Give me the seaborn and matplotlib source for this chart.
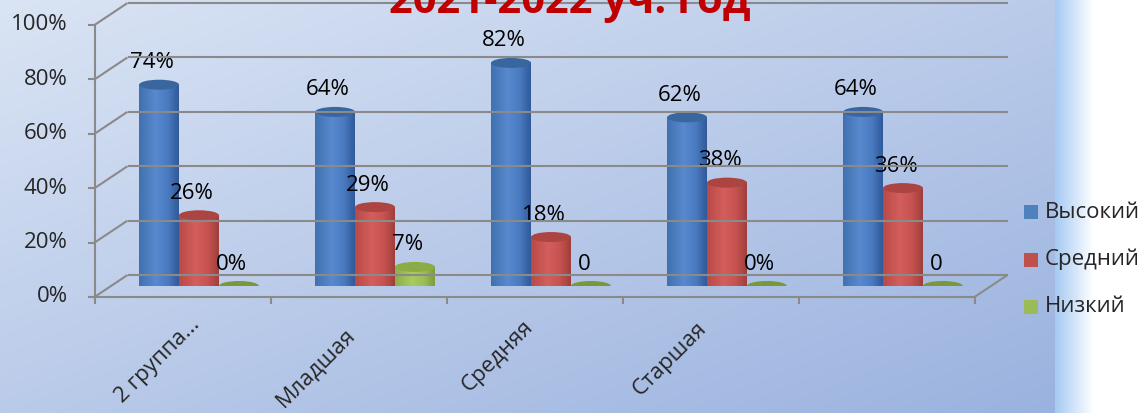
import numpy as np
import pandas as pd
import matplotlib
matplotlib.use("Agg")
import matplotlib.pyplot as plt
import seaborn as sns
from matplotlib.patches import Ellipse, Rectangle
from matplotlib.lines import Line2D
from matplotlib.transforms import IdentityTransform
from matplotlib.colors import LinearSegmentedColormap, to_rgb

# ---------------- data ----------------
categories = ["2 группа...", "Младшая", "Средняя", "Старшая", ""]
series = ["Высокий", "Средний", "Низкий"]
vysokiy = [74, 64, 82, 62, 64]
sredniy = [26, 29, 18, 38, 36]
nizkiy = [0, 7, 0, 0, 0]
labels_vysokiy = ["74%", "64%", "82%", "62%", "64%"]
labels_sredniy = ["26%", "29%", "18%", "38%", "36%"]
labels_nizkiy = ["0%", "7%", "0", "0%", "0"]
yticks = [0, 20, 40, 60, 80, 100]
ytick_labels = ["0%", "20%", "40%", "60%", "80%", "100%"]
title = "2021-2022 уч. год"

colors = ["#4F81BD", "#C0504D", "#9BBB59"]
grad_stops = [
    ["#4070AF", "#5889CE", "#4A7BC0", "#30599A"],
    ["#B84A47", "#D45E5B", "#C75350", "#9E3E3B"],
    ["#8CAD49", "#AACB60", "#9DBE56", "#7D9C3D"],
]
cap_colors = ["#3A66A0", "#AC4441", "#8BAB45"]
zero_colors = ["#3A67A2", "#AE4542", "#7A973C"]

W, H = 1144, 413
DX, DY = 16.5, 11.0   # depth offset in pixels
GRID = "#8A8A8A"

sns.set_theme(style="white")
plt.rcParams["font.family"] = ["Open Sans", "DejaVu Sans"]

fig = plt.figure(figsize=(W / 100, H / 100), dpi=100)

# ---------------- background ----------------
bg = fig.add_axes([0, 0, 1, 1], zorder=-10)
X, Y = np.meshgrid(np.arange(W), np.arange(H))
t = np.clip((X / 1055 + Y / 413) / 2, 0, 1)[..., None]
c1 = np.array(to_rgb("#DAE4F4"))
c2 = np.array(to_rgb("#9AB2DF"))
img = c1 * (1 - t) + c2 * t
s = np.clip((X - 1055) / 38.0, 0, 1)[..., None]
cs = np.array(to_rgb("#A6CAF3"))
strip = cs * (1 - s) + np.ones(3) * s
img = np.where((X >= 1055)[..., None], strip, img)
bg.imshow(img, extent=(0, W, H, 0), aspect="auto", interpolation="bilinear")
bg.set_xlim(0, W)
bg.set_ylim(H, 0)
bg.axis("off")

# ---------------- main axes (mid-depth plane) ----------------
ax = fig.add_axes([111 / W, (H - 286) / H, 880 / W, 272 / H])
ax.patch.set_alpha(0)

df = pd.DataFrame({
    "Категория": categories * 3,
    "Уровень": [series[0]] * 5 + [series[1]] * 5 + [series[2]] * 5,
    "Значение": vysokiy + sredniy + nizkiy,
})
sns.barplot(data=df, x="Категория", y="Значение", hue="Уровень",
            order=categories, hue_order=series, palette=colors,
            width=0.68, saturation=1, errorbar=None, legend=False, ax=ax)
ax.set_xlim(-0.5, 4.5)
ax.set_ylim(0, 100)
ax.axis("off")
fig.canvas.draw()

px_to_data = 100.0 / 272.0
eh = 10 * px_to_data
all_labels = [labels_vysokiy, labels_sredniy, labels_nizkiy]

for si, cont in enumerate(ax.containers):
    cmap = LinearSegmentedColormap.from_list(
        f"cyl{si}", list(zip([0, 0.42, 0.72, 1.0], grad_stops[si])))
    grad = np.linspace(0, 1, 256)[None, :]
    for ci, bar in enumerate(cont):
        x0, w, h = bar.get_x(), bar.get_width(), bar.get_height()
        cx = x0 + w / 2
        z = 3 + si + ci * 0.01
        if h > 0:
            bar.set_facecolor("none")
            bar.set_edgecolor("none")
            ax.add_patch(Ellipse((cx, 0), w, eh, facecolor=grad_stops[si][3],
                                 edgecolor="none", zorder=z - 0.1))
            ax.imshow(grad, extent=(x0, x0 + w, 0, h), aspect="auto",
                      cmap=cmap, zorder=z, interpolation="bilinear")
            ax.add_patch(Ellipse((cx, h), w, eh, facecolor=cap_colors[si],
                                 edgecolor="none", zorder=z + 0.1))
        else:
            bar.set_visible(False)
            ax.add_patch(Ellipse((cx, 0), w, eh, facecolor=zero_colors[si],
                                 edgecolor="none", zorder=z + 0.1))
        ax.annotate(all_labels[si][ci], xy=(cx, h), xytext=(-7, 22),
                    textcoords="offset pixels", ha="center", va="center",
                    fontsize=16, color="black", zorder=20)

ax.set_xlim(-0.5, 4.5)
ax.set_ylim(0, 100)


def P(x, v, depth):
    px, py = ax.transData.transform((x, v))
    return px + depth * DX, py + depth * DY


def seg(p, q, **kw):
    ln = Line2D([p[0], q[0]], [p[1], q[1]], transform=IdentityTransform(),
                color=GRID, lw=1.5, solid_capstyle="butt", zorder=1, **kw)
    fig.add_artist(ln)


# back wall gridlines and side diagonals
for v in yticks:
    seg(P(-0.5, v, 1), P(4.5, v, 1))
    seg(P(-0.5, v, -1), P(-0.5, v, 1))
    a = P(-0.5, v, -1)
    seg((a[0] - 7, a[1]), a)
# front vertical axis
seg(P(-0.5, 0, -1), P(-0.5, 100, -1))
# floor front edge + right edge
seg(P(-0.5, 0, -1), P(4.5, 0, -1))
seg(P(4.5, 0, -1), P(4.5, 0, 1))
for k in range(6):
    a = P(-0.5 + k, 0, -1)
    seg(a, (a[0], a[1] - 7))

# y tick labels
for v, lab in zip(yticks, ytick_labels):
    a = P(-0.5, v, -1)
    fig.text(a[0] - 27, a[1], lab, transform=IdentityTransform(),
             ha="right", va="center", fontsize=16)

# category labels (rotated 45°)
label_nudge = [(21, 6), (0, -4), (2, 4), (0, 2), (0, 0)]
for i, lab in enumerate(categories):
    a = P(i, 0, -1)
    nx, ny = label_nudge[i]
    fig.text(a[0] - 14 + nx, a[1] - 23 + ny, lab, transform=IdentityTransform(),
             ha="right", va="top", rotation=45, rotation_mode="anchor",
             fontsize=16)

# title (partially cut at top like the original)
fig.text(570, H - 13, title, transform=IdentityTransform(), ha="center",
         va="baseline", fontsize=30, fontweight="bold", color="#C00000")

# legend
for k, (name, col) in enumerate(zip(series, colors)):
    yc = H - (212 + 47.5 * k)
    fig.add_artist(Rectangle((1024, yc - 7), 14, 14, transform=IdentityTransform(),
                             facecolor=col, edgecolor="none"))
    fig.text(1045, yc, name, transform=IdentityTransform(), ha="left",
             va="center", fontsize=16)

fig.savefig("out.png", dpi=100)
